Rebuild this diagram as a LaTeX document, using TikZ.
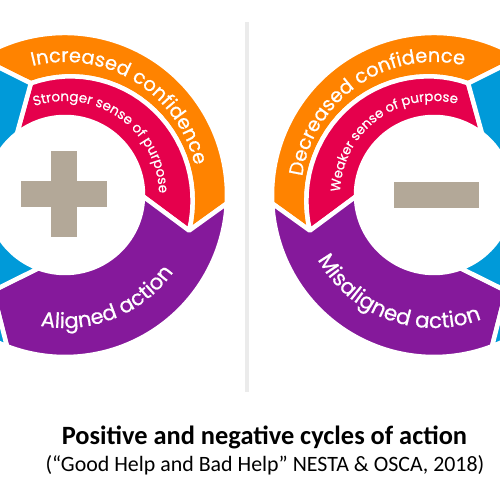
\documentclass[tikz,border=0pt]{standalone}
\usepackage{fontspec}
\newfontfamily\arcfont[FakeBold=0.6]{Poppins}
\newfontfamily\capfont{Carlito}
\usetikzlibrary{decorations.text}
\definecolor{cOrange}{HTML}{FF8300}
\definecolor{cRed}{HTML}{E5004C}
\definecolor{cPurple}{HTML}{85199B}
\definecolor{cBlue}{HTML}{009AD9}
\definecolor{cSign}{HTML}{B3A898}
\definecolor{cDivider}{HTML}{EBEBEB}
\tikzset{
  seg/.style={draw=white, line width=4.5, line join=round},
  signbox/.style={fill=cSign},
}
\newcommand\cycleshapes{%
  \path[seg, fill=cOrange] (122:162) arc[start angle=122, end angle=-3, radius=162]
    -- (-16:{rb(-16)}) -- plot[domain=-16:107, samples=30] (\x:{rb(\x)}) -- cycle;
  \path[seg, fill=cRed] (128:78) arc[start angle=128, end angle=-1, radius=78]
    -- (-16:{rb(-16)}) -- plot[domain=-16:107, samples=30] (\x:{rb(\x)}) -- cycle;
  \path[seg, fill=cPurple] (-3:162) arc[start angle=-3, end angle=-111, radius=162]
    -- (-127:120) -- (-110:78) arc[start angle=-110, end angle=-1, radius=78]
    -- (-16:{rb(-16)}) -- cycle;
  \path[seg, fill=cBlue] (-110:78) arc[start angle=-110, end angle=-232, radius=78]
    -- (107:{rb(107)}) -- (122:162) arc[start angle=122, end angle=249, radius=162]
    -- (-127:120) -- cycle;
}
\newcommand\arctext[5]{%
  \path[decorate, decoration={text along path, text align=center, text color=white,
    text={|\arcfont\fontsize{#1}{#1}\selectfont|#2}}]
    (#3:#5) arc[start angle=#3, end angle=#4, radius=#5];
}
\begin{document}
\begin{tikzpicture}[x=1pt, y=1pt, declare function={rb(\t)=127.5-0.1*\t;}]
\useasboundingbox (0,0) rectangle (500,497);
\clip (0,0) rectangle (500,497);
% divider
\fill[cDivider] (245,105) rectangle (249,475);
% left cycle
\begin{scope}[shift={(65,302)}]
  \cycleshapes
  \arctext{19.5}{Increased confidence}{148.5}{-31.5}{133}
  \arctext{13.5}{Stronger sense of purpose}{145}{-35}{94}
  \arctext{21}{Aligned action}{-158}{22}{133}
\end{scope}
\path[signbox] (20.7,289.5) rectangle (107.3,316.3);
\path[signbox] (50.7,259.7) rectangle (77.3,346.3);
% right cycle
\begin{scope}[shift={(434,302)}, xscale=-1]
  \cycleshapes
\end{scope}
\begin{scope}[shift={(434,302)}]
  \arctext{19.5}{Decreased confidence}{214.5}{34.5}{133}
  \arctext{13.3}{Weaker sense of purpose}{217}{37}{94}
  \arctext{21.5}{Misaligned action}{-200}{-20}{133}
\end{scope}
\path[signbox] (394,288.5) rectangle (479,315.3);
% caption
\node[anchor=base, inner sep=0, font=\capfont\bfseries\fontsize{26.4}{26.4}\selectfont] (title) at (264.5,52) {Positive and negative cycles of action};
\node[anchor=base, inner sep=0, font=\capfont\fontsize{21.9}{21.9}\selectfont] (source) at (265,25) {(“Good Help and Bad Help” NESTA \& OSCA, 2018)};
\end{tikzpicture}
\end{document}
